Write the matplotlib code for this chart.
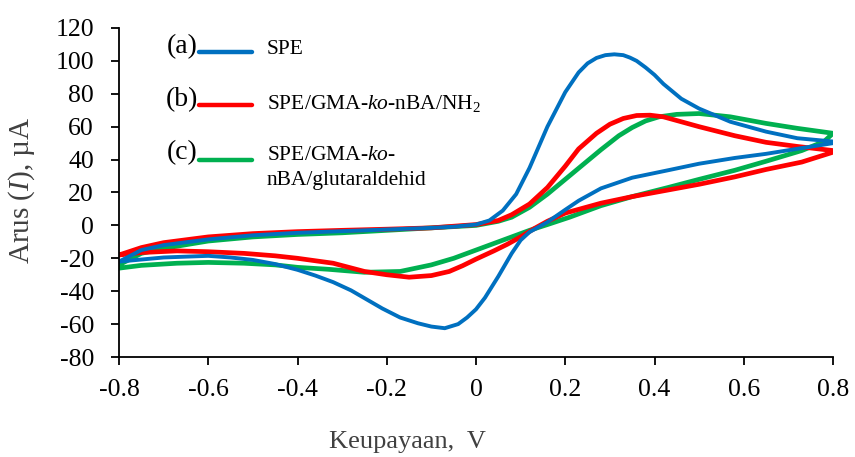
import matplotlib
matplotlib.use('Agg')
import matplotlib.pyplot as plt

plt.rcParams['font.family'] = ['Liberation Serif', 'DejaVu Serif']
plt.rcParams['mathtext.fontset'] = 'custom'
plt.rcParams['mathtext.rm'] = 'Liberation Serif'
plt.rcParams['mathtext.it'] = 'Liberation Serif:italic'
plt.rcParams['axes.unicode_minus'] = False

# (a) SPE  - forward scan then reverse scan
spe_v = [-0.80, -0.75, -0.70, -0.60, -0.50, -0.40, -0.30, -0.20, -0.10, -0.05,
         0.00, 0.03, 0.06, 0.09, 0.12, 0.16, 0.20, 0.23, 0.25, 0.27, 0.29, 0.31,
         0.33, 0.345, 0.36, 0.38, 0.40, 0.42, 0.46, 0.50, 0.57, 0.65, 0.72, 0.80,
         0.80, 0.73, 0.65, 0.58, 0.50, 0.43, 0.35, 0.28, 0.23, 0.20,
         0.16, 0.12, 0.10, 0.08, 0.05, 0.02, 0.00, -0.02, -0.04, -0.07, -0.10,
         -0.13, -0.17, -0.21, -0.245, -0.28, -0.32, -0.36, -0.40, -0.45, -0.50, -0.55, -0.60, -0.70, -0.80]
spe_i = [-22, -15, -12, -8.5, -6, -4.5, -3.5, -2.5, -1.5, -0.8,
         0.5, 3, 9, 19, 35, 60, 81, 93, 98.5, 101.8, 103.5, 104,
         103.5, 102, 100, 96, 91.5, 86, 77, 71, 63, 57, 53, 51,
         50, 47, 43.5, 41, 37.5, 33.5, 29, 22.5, 15, 9.5,
         2, -4, -9, -17, -31, -44, -51, -56, -60, -62.5, -61.5,
         -59.5, -56, -50.5, -45, -39.5, -34.5, -30.5, -27, -23.5, -21, -19.5, -18.5, -19.5, -22]

# (b) SPE/GMA-ko-nBA/NH2
nh2_v = [-0.80, -0.75, -0.70, -0.60, -0.50, -0.40, -0.30, -0.20, -0.10, 0.00,
         0.05, 0.08, 0.12, 0.16, 0.20, 0.23, 0.27, 0.30, 0.33, 0.36, 0.39,
         0.42, 0.46, 0.50, 0.58, 0.65, 0.72, 0.80,
         0.80, 0.73, 0.65, 0.58, 0.50, 0.43, 0.35, 0.28, 0.20, 0.16,
         0.13, 0.10, 0.07, 0.04, 0.00, -0.03, -0.06, -0.10, -0.15, -0.20, -0.25,
         -0.32, -0.40, -0.45, -0.52, -0.60, -0.67, -0.75, -0.80]
nh2_i = [-18, -13.5, -10.5, -7, -5, -3.8, -3, -2.3, -1.5, 0.5,
         3, 6.5, 13, 23, 36, 46.5, 56, 61.5, 65, 66.8, 67,
         66, 63, 60, 54.5, 50.5, 48, 45.5,
         44.5, 38.5, 34, 29.5, 25, 21.5, 17.5, 13.5, 7.5, 2.5,
         -2, -7, -11.5, -15.5, -20.5, -24.5, -28, -30.5, -31.5, -30, -28,
         -23, -20, -18.5, -17, -16, -15.5, -16.5, -18]

# (c) SPE/GMA-ko-nBA/glutaraldehid
glu_v = [-0.80, -0.75, -0.70, -0.60, -0.50, -0.40, -0.30, -0.20, -0.10, 0.00,
         0.05, 0.08, 0.12, 0.16, 0.20, 0.24, 0.28, 0.32, 0.35, 0.38, 0.41,
         0.45, 0.50, 0.57, 0.65, 0.72, 0.80,
         0.80, 0.78, 0.73, 0.65, 0.58, 0.50, 0.43, 0.35, 0.28, 0.21,
         0.16, 0.12, 0.05, 0.00, -0.05, -0.10, -0.17, -0.25, -0.33, -0.40,
         -0.45, -0.52, -0.60, -0.67, -0.75, -0.80]
glu_i = [-24, -17, -14, -9.5, -7, -5.5, -4.5, -3, -1.5, 0,
         2.5, 5, 11, 19, 28, 37, 46, 54.5, 59.5, 63.5, 66,
         67.5, 68, 66, 62, 59, 56,
         56, 51, 45.5, 39, 33.5, 28, 23, 17.5, 12, 5,
         0.5, -3, -10, -15, -20, -24, -28, -28.5, -26.7, -25.5,
         -24, -23, -22.5, -23, -24.3, -26]

x_ticks = [-0.8, -0.6, -0.4, -0.2, 0, 0.2, 0.4, 0.6, 0.8]
x_ticklabels = ['-0.8', '-0.6', '-0.4', '-0.2', '0', '0.2', '0.4', '0.6', '0.8']
y_ticks = list(range(-80, 121, 20))

labels = ['SPE', 'SPE/GMA-$\\mathit{ko}$-nBA/NH$_2$', 'SPE/GMA-$\\mathit{ko}$-\nnBA/glutaraldehid']
tags = ['(a)', '(b)', '(c)']
colors = ['#0070C0', '#FF0000', '#00B050']

W, H = 855, 457
fig = plt.figure(figsize=(8.55, 4.57), dpi=100)
ax = fig.add_axes([119 / W, 1 - 357 / H, (833 - 119) / W, (357 - 28) / H])

ax.plot(glu_v, glu_i, color=colors[2], lw=3.4, solid_capstyle='round', solid_joinstyle='round')
ax.plot(nh2_v, nh2_i, color=colors[1], lw=3.4, solid_capstyle='round', solid_joinstyle='round')
ax.plot(spe_v, spe_i, color=colors[0], lw=2.8, solid_capstyle='round', solid_joinstyle='round')

ax.set_xlim(-0.8, 0.8)
ax.set_ylim(-80, 120)
ax.set_xticks(x_ticks)
ax.set_xticklabels(x_ticklabels)
ax.set_yticks(y_ticks)
ax.set_yticklabels([str(v) for v in y_ticks])
ax.spines['top'].set_visible(False)
ax.spines['right'].set_visible(False)
for s in ['left', 'bottom']:
    ax.spines[s].set_linewidth(1.3)
ax.tick_params(axis='both', direction='out', length=6, width=1.3, labelsize=18.5, color='black')
ax.tick_params(axis='y', pad=12)
ax.tick_params(axis='x', pad=10)

fig.text(22 / W, 1 - 190 / H, 'Arus ($\\mathit{I}$), µA', fontsize=21, color='#404040',
         rotation=90, ha='center', va='center')
fig.text(407 / W, 1 - 442 / H, 'Keupayaan,  V', fontsize=19, color='#404040',
         ha='center', va='center')

# legend drawn by hand like the original
tag_y = [47, 100, 153]
line_y = [52, 105, 160]
text_y = [49, 104, 155]
for tag, lab, col, ty, ly, sy in zip(tags, labels, colors, tag_y, line_y, text_y):
    fig.text(182 / W, 1 - ty / H, tag, fontsize=20, ha='center', va='center')
    fig.add_artist(plt.Line2D([199 / W, 252 / W], [1 - ly / H, 1 - ly / H], color=col, lw=3.2,
                              solid_capstyle='round', transform=fig.transFigure))
    for k, part in enumerate(lab.split('\n')):
        fig.text(267 / W, 1 - (sy + 25 * k) / H, part, fontsize=15.5, ha='left', va='center')

plt.savefig('out.png', dpi=100)
plt.close()
